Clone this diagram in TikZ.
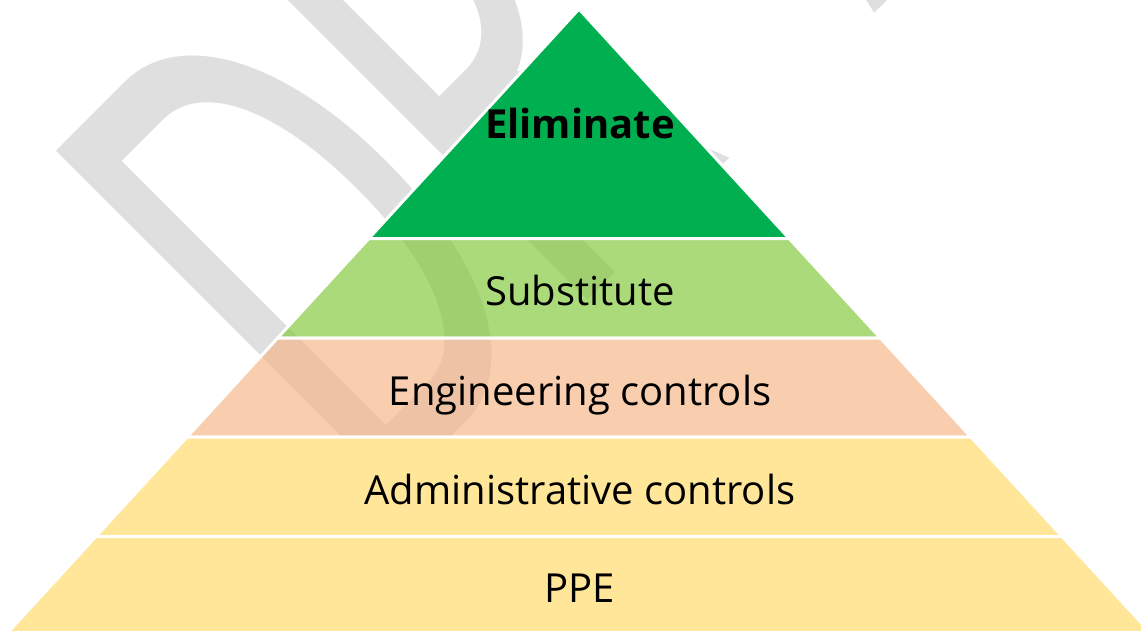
\documentclass[tikz,border=0pt]{standalone}
\usepackage{fontspec}
\usepackage{graphicx}
\setmainfont{Open Sans}
\newfontfamily\wmfont{Carlito}
\definecolor{topgreen}{RGB}{0,176,80}
\definecolor{subgreen}{RGB}{126,199,54}
\definecolor{engpeach}{RGB}{246,181,135}
\definecolor{gold}{RGB}{255,230,153}
\definecolor{wmgray}{RGB}{223,223,223}
\tikzset{
  layer/.style={draw=white, line width=3pt, line join=round},
  seethrough/.style={fill opacity=0.66},
  lbl/.style={anchor=base, inner sep=0pt, font=\fontsize{40}{48}\selectfont, text=black},
  wm/.style={anchor=base west, inner sep=0pt, rotate=45, text=wmgray}
}
\begin{document}
\begin{tikzpicture}[x=1pt,y=-1pt]
\path[use as bounding box] (0,0) rectangle (1141,630);
\clip (0,0) rectangle (1141,630);
\fill[white] (0,0) rectangle (1141,630);
% watermark
\node[wm] (wD) at (375.5,512.5) {\wmfont\fontsize{100}{100}\selectfont\scalebox{4.4}[7.5]{D}};
\node[wm] (wR) at (565.5,322.5) {\wmfont\fontsize{100}{100}\selectfont\scalebox{4.4}[7.5]{R}};
\node[wm] (wA) at (873,15) {\wmfont\fontsize{100}{100}\selectfont\scalebox{4.4}[7.5]{AFT}};
% pyramid corners
\coordinate (apex) at (579,9);
\coordinate (l1) at (368.8,238.5); \coordinate (r1) at (789.2,238.5);
\coordinate (l2) at (277.6,338);   \coordinate (r2) at (880.4,338);
\coordinate (l3) at (187.0,437);   \coordinate (r3) at (971.0,437);
\coordinate (l4) at (95.8,536.5);  \coordinate (r4) at (1062.2,536.5);
\coordinate (l5) at (1,640);       \coordinate (r5) at (1157,640);
% layers
\path[layer, fill=topgreen] (apex) -- (r1) -- (l1) -- cycle;
\path[layer, fill=subgreen, seethrough] (l1) -- (r1) -- (r2) -- (l2) -- cycle;
\path[layer, fill=engpeach, seethrough] (l2) -- (r2) -- (r3) -- (l3) -- cycle;
\path[layer, fill=gold] (l3) -- (r3) -- (r4) -- (l4) -- cycle;
\path[layer, fill=gold] (l4) -- (r4) -- (r5) -- (l5) -- cycle;
% labels
\node[lbl, font=\fontsize{40}{48}\selectfont\bfseries] (elim) at (580,138) {Eliminate};
\node[lbl] (subs) at (580,305) {Substitute};
\node[lbl] (eng) at (580,405) {Engineering controls};
\node[lbl] (adm) at (580,504) {Administrative controls};
\node[lbl] (ppe) at (580,602) {PPE};
\end{tikzpicture}
\end{document}
